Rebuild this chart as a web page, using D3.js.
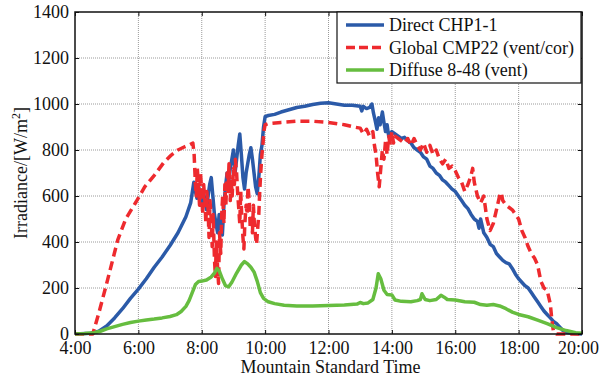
<!DOCTYPE html>
<html>
<head>
<meta charset="utf-8">
<script src="https://cdn.jsdelivr.net/npm/d3@7"></script>
</head>
<body style="margin:0">
<svg id="chart" width="601" height="382" font-family="Liberation Serif"></svg>
<script>
// time of day in hours, irradiance in W/m2
var directHours = [4.0, 4.5, 4.75, 5.0, 5.25, 5.5, 5.75, 6.0, 6.25, 6.5, 6.75, 7.0, 7.25, 7.5, 7.65, 7.75,
  7.8, 7.85, 7.9, 7.95, 8.0, 8.05, 8.1, 8.15, 8.2, 8.25, 8.3, 8.35, 8.4, 8.45, 8.5, 8.55, 8.6, 8.65, 8.7, 8.75,
  8.8, 8.85, 8.9, 8.95, 9.0, 9.05, 9.1, 9.15, 9.2, 9.25, 9.3, 9.35, 9.4, 9.45, 9.5, 9.55, 9.6, 9.65, 9.7, 9.75,
  9.8, 9.85, 9.9, 9.95, 10.0, 10.1, 10.3, 10.5, 10.75, 11.0, 11.25, 11.5, 11.75, 12.0, 12.25, 12.5, 12.75, 13.0,
  13.05, 13.1, 13.2, 13.3, 13.37, 13.42, 13.47, 13.53, 13.58, 13.63, 13.7, 13.75, 13.8, 13.85, 13.9, 14.0, 14.1,
  14.2, 14.3, 14.4, 14.5, 14.6, 14.7, 14.8, 14.9, 15.0, 15.1, 15.2, 15.3, 15.4, 15.5, 15.6, 15.7, 15.8, 15.9,
  16.0, 16.1, 16.2, 16.3, 16.4, 16.5, 16.6, 16.7, 16.75, 16.8, 16.85, 16.9, 17.0, 17.1, 17.2, 17.3, 17.4, 17.5,
  17.6, 17.7, 17.8, 17.9, 18.0, 18.1, 18.2, 18.3, 18.4, 18.5, 18.6, 18.7, 18.8, 18.9, 19.0, 19.1, 19.2, 19.3,
  19.4, 19.5, 19.7, 20.0];
var directValues = [0, 3, 12, 35, 70, 110, 155, 195, 240, 290, 335, 385, 440, 510, 570, 660,
  620, 590, 640, 600, 560, 620, 580, 540, 600, 650, 680, 600, 520, 480, 440, 520, 470, 430, 560, 640,
  700, 660, 720, 760, 800, 700, 760, 820, 870, 780, 680, 630, 700, 740, 780, 810, 760, 700, 640, 610,
  680, 780, 820, 900, 945, 950, 955, 965, 975, 985, 990, 998, 1003, 1005, 1000, 995, 995, 990,
  970, 990, 980, 985, 1000, 960, 930, 890, 940, 910, 965, 920, 880, 910, 860, 880, 870,
  860, 850, 855, 840, 830, 810, 800, 790, 770, 760, 730, 720, 700, 690, 670, 660, 645, 630,
  620, 600, 580, 560, 545, 520, 500, 490, 460, 500, 470, 440, 420, 390, 380, 350, 335, 320,
  310, 305, 285, 260, 240, 225, 210, 200, 180, 160, 140, 120, 100, 85, 70, 55, 45, 30,
  15, 8, 3, 0];

var globalHours = [4.0, 4.56, 4.75, 5.0, 5.35, 5.6, 5.93, 6.2, 6.51, 6.8, 7.04, 7.25, 7.46, 7.6, 7.72,
  7.76, 7.8, 7.83, 7.86, 7.9, 7.93, 7.96, 8.0, 8.03, 8.06, 8.1, 8.13, 8.16, 8.2, 8.23, 8.26, 8.3, 8.33, 8.36,
  8.4, 8.43, 8.46, 8.5, 8.53, 8.56, 8.6, 8.63, 8.66, 8.7, 8.73, 8.76, 8.8, 8.83, 8.86, 8.9, 8.93, 8.96, 9.0,
  9.03, 9.06, 9.1, 9.13, 9.16, 9.2, 9.23, 9.26, 9.3, 9.33, 9.36, 9.4, 9.43, 9.46, 9.5, 9.53, 9.56, 9.6, 9.63,
  9.66, 9.7, 9.73, 9.76, 9.8, 9.83, 9.86, 9.9, 9.93, 9.96, 10.0, 10.1, 10.5, 11.0, 11.5, 12.0, 12.5, 12.8,
  13.0, 13.1, 13.2, 13.3, 13.4, 13.45, 13.5, 13.55, 13.6, 13.65, 13.7, 13.75, 13.8, 13.85, 13.9, 13.95,
  14.0, 14.05, 14.1, 14.2, 14.3, 14.4, 14.5, 14.6, 14.7, 14.8, 14.9, 15.0, 15.1, 15.2, 15.3, 15.4, 15.5,
  15.6, 15.7, 15.8, 15.9, 16.0, 16.1, 16.2, 16.3, 16.4, 16.5, 16.55, 16.6, 16.7, 16.8, 16.9, 17.0, 17.1,
  17.2, 17.3, 17.4, 17.45, 17.5, 17.6, 17.7, 17.8, 17.9, 18.0, 18.1, 18.2, 18.3, 18.4, 18.5, 18.6, 18.7,
  18.8, 18.9, 19.0, 19.05, 19.1, 19.2, 20.0];
var globalValues = [0, 0, 90, 220, 409, 500, 575, 640, 691, 745, 778, 800, 814, 822, 830,
  780, 650, 600, 720, 640, 560, 700, 620, 520, 650, 580, 480, 620, 540, 420, 580, 500, 380, 520,
  330, 250, 400, 290, 220, 440, 350, 520, 600, 480, 650, 560, 700, 620, 740, 580, 680, 600, 720,
  650, 760, 700, 620, 560, 480, 620, 520, 420, 370, 480, 560, 520, 640, 580, 460, 520, 440, 560,
  480, 420, 390, 450, 520, 620, 700, 780, 820, 880, 910, 915, 920, 925, 925, 920, 910, 900,
  895, 870, 890, 860, 880, 820, 780, 700, 640, 720, 800, 760, 840, 780, 860, 820,
  880, 830, 860, 850, 840, 830, 850, 820, 850, 820, 800, 830, 790, 820, 780, 800, 760,
  740, 760, 720, 730, 710, 680, 660, 620, 650, 690, 720, 660, 600, 570, 600, 500, 450,
  480, 540, 600, 615, 580, 560, 550, 540, 520, 500, 450, 420, 380, 350, 330, 300, 230,
  200, 190, 130, 60, 10, 0, 0];

var diffuseHours = [4.0, 4.3, 4.6, 4.8, 5.0, 5.25, 5.5, 5.75, 6.0, 6.25, 6.5, 6.75, 7.0, 7.2, 7.35, 7.5,
  7.6, 7.7, 7.8, 7.9, 8.0, 8.15, 8.3, 8.4, 8.48, 8.55, 8.65, 8.75, 8.85, 8.95, 9.1, 9.25, 9.35, 9.45, 9.55,
  9.65, 9.75, 9.85, 9.95, 10.1, 10.3, 10.6, 11.0, 11.5, 12.0, 12.5, 12.9, 13.0, 13.1, 13.25, 13.4, 13.5,
  13.57, 13.65, 13.75, 13.85, 14.0, 14.1, 14.3, 14.6, 14.8, 14.9, 14.95, 15.05, 15.2, 15.4, 15.55, 15.65,
  15.75, 16.0, 16.3, 16.6, 16.8, 17.0, 17.2, 17.4, 17.6, 17.8, 18.0, 18.3, 18.6, 18.9, 19.2, 19.5, 19.8, 20.0];
var diffuseValues = [0, 2, 6, 12, 22, 32, 42, 50, 56, 61, 65, 70, 76, 84, 98, 120,
  145, 180, 215, 228, 230, 235, 248, 265, 285, 275, 240, 210, 205, 225, 265, 300, 315, 305, 290,
  270, 230, 180, 155, 140, 132, 125, 122, 122, 124, 126, 130, 137, 132, 135, 150, 200,
  262, 240, 190, 172, 170, 148, 142, 140, 145, 150, 175, 150, 145, 150, 168, 160,
  150, 148, 140, 138, 128, 125, 128, 122, 110, 95, 85, 75, 60, 45, 28, 15, 6, 3];

var xTickHours = [4, 6, 8, 10, 12, 14, 16, 18, 20];
var yTickValues = [0, 200, 400, 600, 800, 1000, 1200, 1400];
var seriesNames = ["Direct CHP1-1", "Global CMP22 (vent/cor)", "Diffuse 8-48 (vent)"];
var seriesColors = ["#2b5aa8", "#ee2a2e", "#66bd3f"];

// every text in the chart uses the same Times-like face
function serifText(sel, size) {
  return sel.attr("font-family", "Liberation Serif")
    .style("font-family", "'Liberation Serif'")
    .style("font-size", size + "px")
    .attr("fill", "#111");
}

var svg = d3.select("#chart");
var margin = {left: 75, right: 19, top: 12, bottom: 48};
var width = 601 - margin.left - margin.right;
var height = 382 - margin.top - margin.bottom;

var x = d3.scaleLinear().domain([4, 20]).range([margin.left, margin.left + width]);
var y = d3.scaleLinear().domain([0, 1400]).range([margin.top + height, margin.top]);

// dotted grid
var grid = svg.append("g").attr("stroke", "#9a9a9a").attr("stroke-width", 1).attr("stroke-dasharray", "1,1");
grid.selectAll(".gx").data(xTickHours.slice(1, -1)).enter().append("line")
  .attr("x1", function (d) { return x(d); }).attr("x2", function (d) { return x(d); })
  .attr("y1", margin.top).attr("y2", margin.top + height);
grid.selectAll(".gy").data(yTickValues.slice(1, -1)).enter().append("line")
  .attr("x1", margin.left).attr("x2", margin.left + width)
  .attr("y1", function (d) { return y(d); }).attr("y2", function (d) { return y(d); });

// series lines
function makeLine(hours, values) {
  return d3.line()
    .x(function (d, i) { return x(hours[i]); })
    .y(function (d) { return y(d); })(values);
}
var plot = svg.append("g").attr("fill", "none").attr("stroke-linejoin", "round");
plot.append("path").attr("d", makeLine(directHours, directValues))
  .attr("stroke", seriesColors[0]).attr("stroke-width", 3.5);
plot.append("path").attr("d", makeLine(globalHours, globalValues))
  .attr("stroke", seriesColors[1]).attr("stroke-width", 3.5).attr("stroke-dasharray", "9,5");
plot.append("path").attr("d", makeLine(diffuseHours, diffuseValues))
  .attr("stroke", seriesColors[2]).attr("stroke-width", 3.5);

// axes on all four sides, ticks pointing inward
var xFormat = function (d) { return d + ":00"; };
var axisStyle = function (g) {
  g.attr("font-family", "Liberation Serif").attr("font-size", 18);
  serifText(g.selectAll("text"), 18);
  g.select(".domain").remove();
  g.selectAll(".tick line").attr("stroke", "#111");
};
var bottomAxis = svg.append("g").attr("transform", "translate(0," + (margin.top + height) + ")")
  .call(d3.axisBottom(x).tickValues(xTickHours).tickFormat(xFormat).tickSizeInner(-4).tickSizeOuter(0).tickPadding(7))
  .call(axisStyle);
// keep the last label inside the picture
bottomAxis.selectAll(".tick text").filter(function (d) { return d === 20; }).attr("dx", -4);
svg.append("g").attr("transform", "translate(0," + margin.top + ")")
  .call(d3.axisTop(x).tickValues(xTickHours).tickFormat("").tickSizeInner(-4).tickSizeOuter(0))
  .call(axisStyle);
svg.append("g").attr("transform", "translate(" + margin.left + ",0)")
  .call(d3.axisLeft(y).tickValues(yTickValues).tickFormat(d3.format("d")).tickSizeInner(-4).tickSizeOuter(0).tickPadding(6))
  .call(axisStyle);
svg.append("g").attr("transform", "translate(" + (margin.left + width) + ",0)")
  .call(d3.axisRight(y).tickValues(yTickValues).tickFormat("").tickSizeInner(-4).tickSizeOuter(0))
  .call(axisStyle);

svg.append("rect").attr("x", margin.left).attr("y", margin.top)
  .attr("width", width).attr("height", height)
  .attr("fill", "none").attr("stroke", "#111").attr("stroke-width", 1.5);

// axis titles
serifText(svg.append("text"), 18).attr("x", margin.left + width / 2 + 2).attr("y", 373)
  .attr("text-anchor", "middle").text("Mountain Standard Time");
var yTitle = serifText(svg.append("text"), 18)
  .attr("transform", "translate(27," + (margin.top + height / 2) + ") rotate(-90)")
  .attr("text-anchor", "middle");
yTitle.append("tspan").text("Irradiance/[W/m");
yTitle.append("tspan").attr("dy", -7).style("font-size", "12px").text("2");
yTitle.append("tspan").attr("dy", 7).text("]");

// legend
var legend = svg.append("g").attr("transform", "translate(337," + margin.top + ")");
legend.append("rect").attr("width", 244).attr("height", 71)
  .attr("fill", "#fff").attr("stroke", "#111").attr("stroke-width", 1.2);
seriesNames.forEach(function (name, i) {
  var row = legend.append("g").attr("transform", "translate(0," + (13 + i * 22.5) + ")");
  row.append("line").attr("x1", 9).attr("x2", 47).attr("y1", 0).attr("y2", 0)
    .attr("stroke", seriesColors[i]).attr("stroke-width", 3.5)
    .attr("stroke-dasharray", i === 1 ? "9,4" : null);
  serifText(row.append("text"), 18).attr("x", 52).attr("y", 6).text(name);
});
</script>
</body>
</html>
